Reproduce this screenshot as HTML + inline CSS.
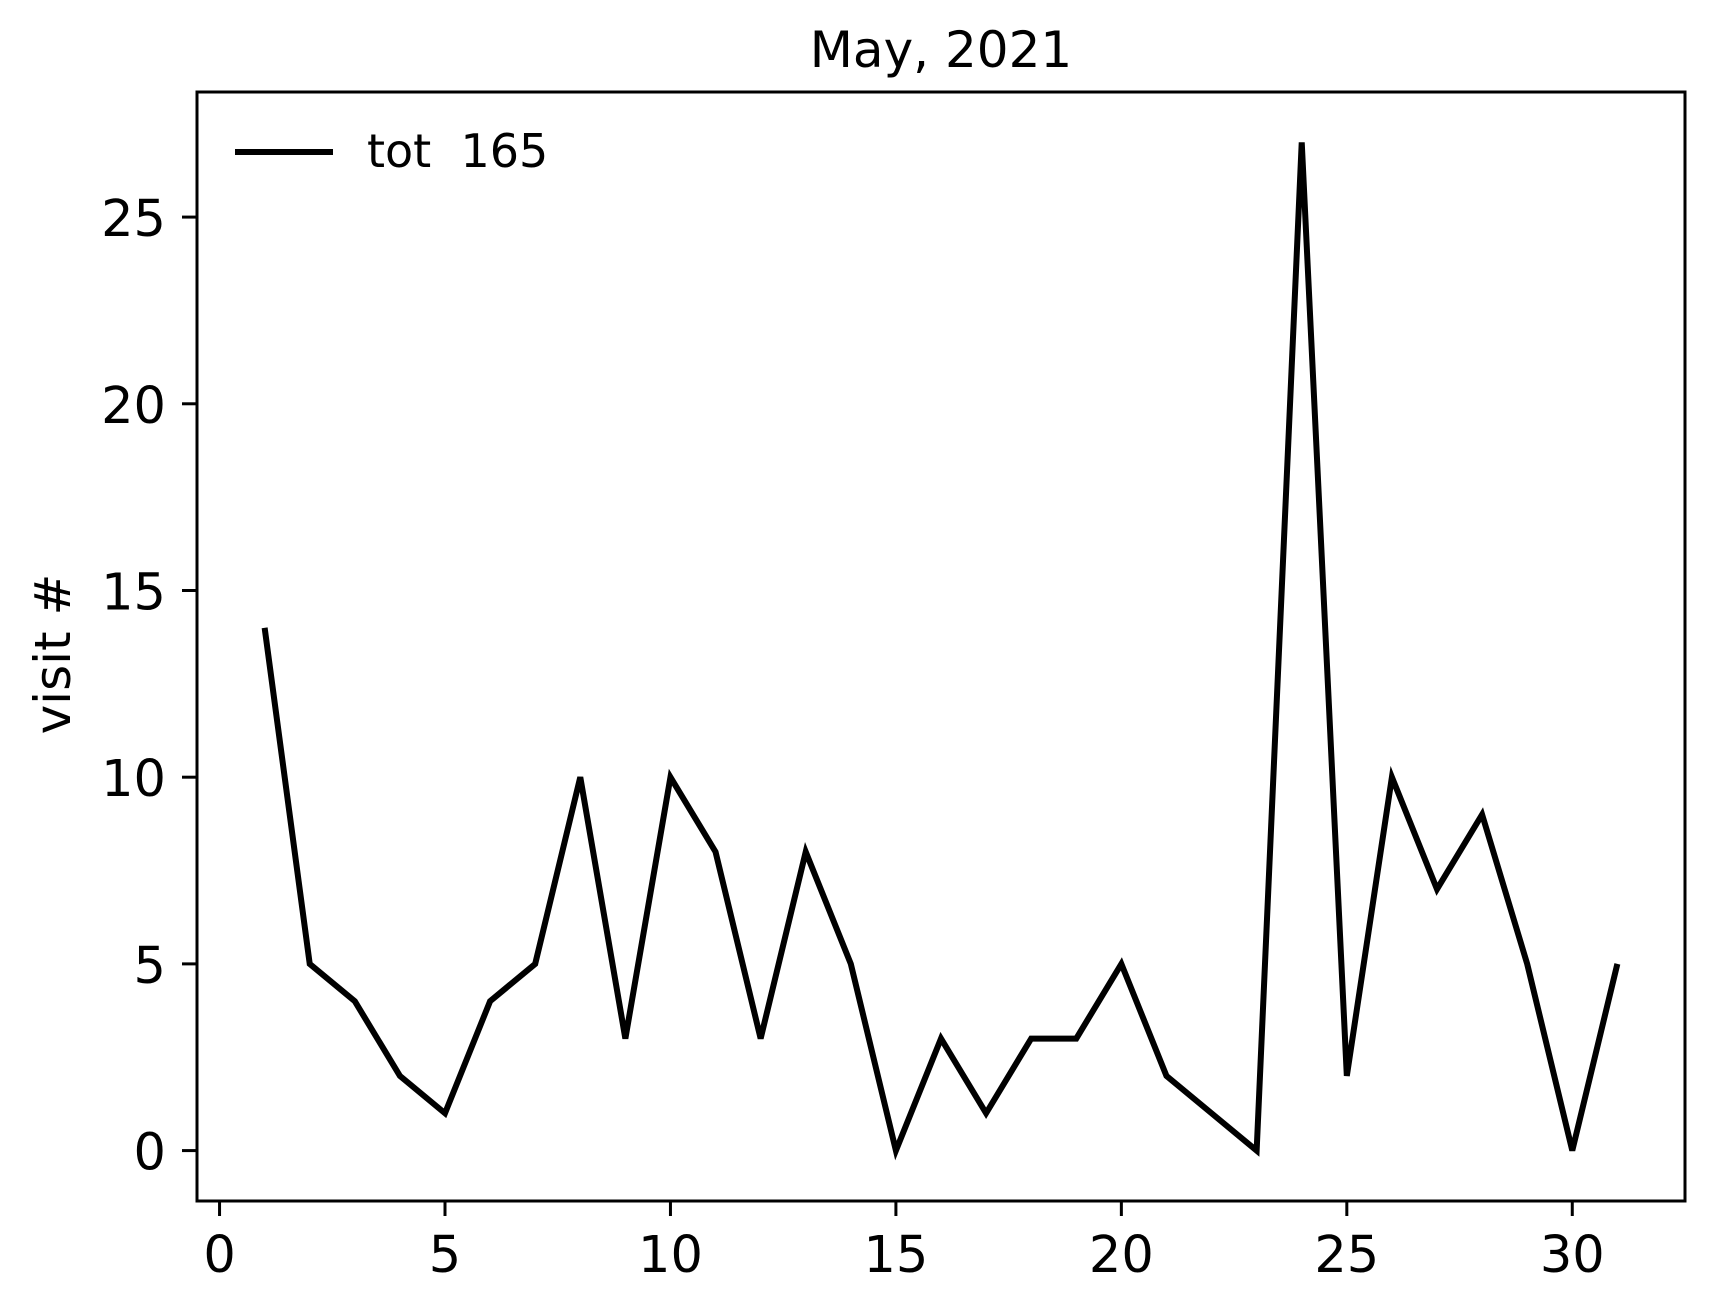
<!DOCTYPE html>
<html><head><meta charset="utf-8"><style>html,body{margin:0;padding:0;background:#fff}svg{display:block}</style></head>
<body>
<svg id="chart" width="1714" height="1312" xmlns="http://www.w3.org/2000/svg" font-family="DejaVu Sans, Liberation Sans, sans-serif">
<rect width="1714" height="1312" fill="#fff"/>
<text x="941" y="67" font-size="50" text-anchor="middle">May, 2021</text>
<text transform="translate(70,654) rotate(-90)" font-size="50" text-anchor="middle">visit #</text>
<g id="ticks"></g>
<polyline id="series" fill="none" stroke="#000" stroke-width="6" stroke-linejoin="miter" points=""/>
<rect x="197" y="92" width="1488" height="1109" fill="none" stroke="#000" stroke-width="3"/>
<g>
<line x1="235" y1="152" x2="333" y2="152" stroke="#000" stroke-width="6"/>
<text x="367" y="167" font-size="46" xml:space="preserve">tot  165</text>
</g>
</svg>
<script>
const days = [1,2,3,4,5,6,7,8,9,10,11,12,13,14,15,16,17,18,19,20,21,22,23,24,25,26,27,28,29,30,31];
const visits = [14,5,4,2,1,4,5,10,3,10,8,3,8,5,0,3,1,3,3,5,2,1,0,27,2,10,7,9,5,0,5];
const xTicks = [0,5,10,15,20,25,30];
const yTicks = [0,5,10,15,20,25];
const L=197,R=1685,T=92,B=1201;
const xmin=-0.5,xmax=32.5,ymin=-1.35,ymax=28.35;
function sx(v){return L+(v-xmin)/(xmax-xmin)*(R-L);}
function sy(v){return B-(v-ymin)/(ymax-ymin)*(B-T);}
const NS='http://www.w3.org/2000/svg';
const g=document.getElementById('ticks');
xTicks.forEach(t=>{
  const l=document.createElementNS(NS,'line');
  
  
  l.setAttribute('x1',sx(t));l.setAttribute('x2',sx(t));l.setAttribute('y1',B);l.setAttribute('y2',B+15);
  l.setAttribute('stroke','#000');l.setAttribute('stroke-width','3');g.appendChild(l);
  const tx=document.createElementNS(NS,'text');
  
  
  tx.setAttribute('x',sx(t));tx.setAttribute('y',1272);tx.setAttribute('font-size','51');tx.setAttribute('text-anchor','middle');
  tx.textContent=t;g.appendChild(tx);
});
yTicks.forEach(t=>{
  const l=document.createElementNS(NS,'line');
  
  
  l.setAttribute('x1',L-15);l.setAttribute('x2',L);l.setAttribute('y1',sy(t));l.setAttribute('y2',sy(t));
  l.setAttribute('stroke','#000');l.setAttribute('stroke-width','3');g.appendChild(l);
  const tx=document.createElementNS(NS,'text');
  
  
  tx.setAttribute('x',166);tx.setAttribute('y',sy(t)+19);tx.setAttribute('font-size','51');tx.setAttribute('text-anchor','end');
  tx.textContent=t;g.appendChild(tx);
});
document.getElementById('series').setAttribute('points',days.map((d,i)=>sx(d)+','+sy(visits[i])).join(' '));
</script>
</body></html>
